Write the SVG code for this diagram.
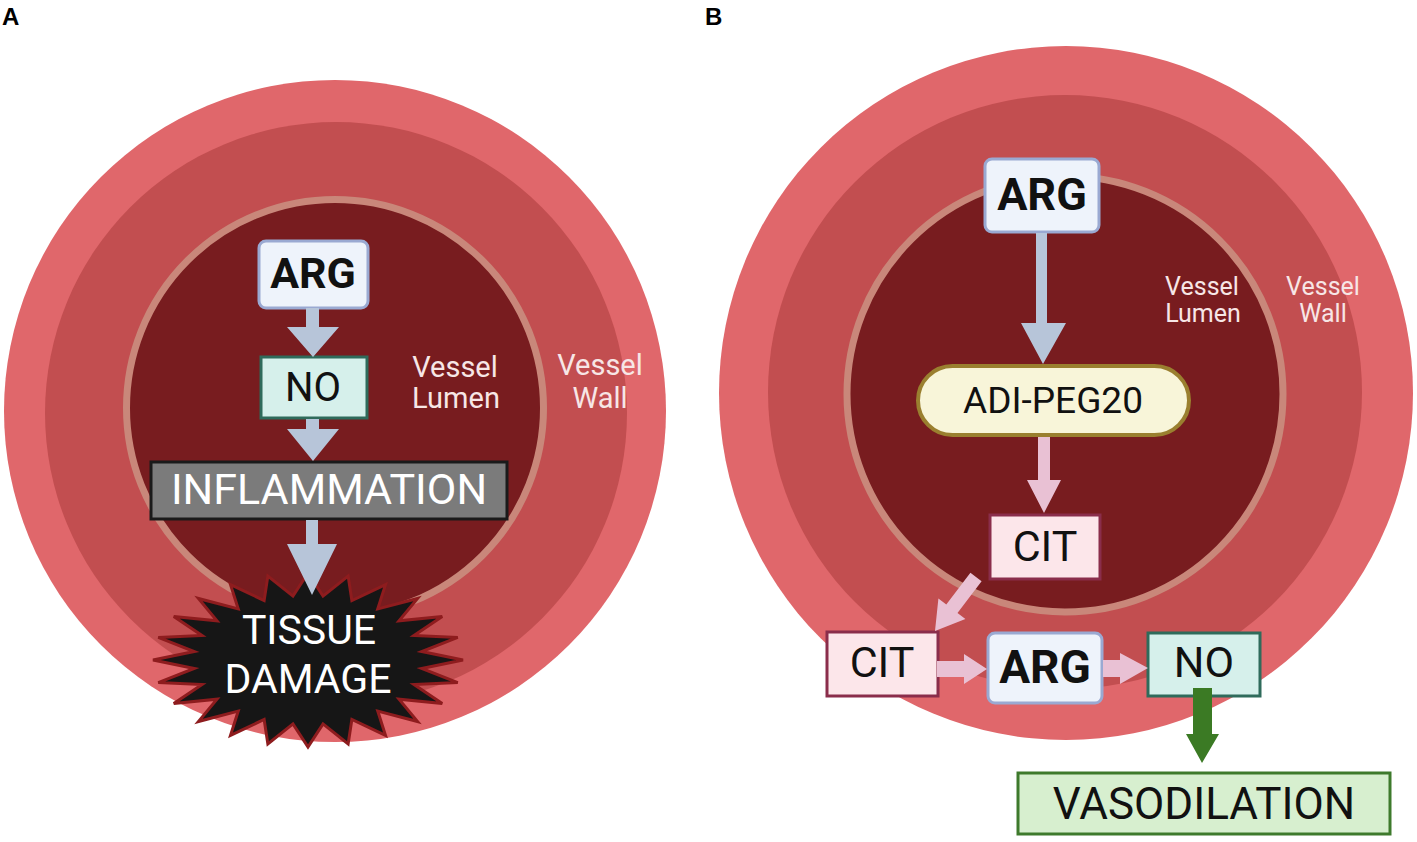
<svg xmlns="http://www.w3.org/2000/svg" width="1417" height="842" viewBox="0 0 1417 842">
<defs>
<style>
.outer{fill:#e0676b}
.mid{fill:#c24e50}
.inner{fill:#781c1f;stroke:#c9877a;stroke-width:7}
.lbl{font-family:Roboto,"Liberation Sans",sans-serif;fill:#f7e6e6;text-anchor:middle}
.t{font-family:Roboto,"Liberation Sans",sans-serif;text-anchor:middle;fill:#111}
.b{font-weight:bold}
.arg{fill:#eef3fb;stroke:#9aa9d2;stroke-width:3}
.no{fill:#d6f0eb;stroke:#2f6b5b;stroke-width:3}
.cit{fill:#fce6ea;stroke:#8a2d4b;stroke-width:3}
.blue{fill:#b7c5d9}
.pink{fill:#e9c1d4}
.green{fill:#3b7a24}
.panel{font-family:"Liberation Sans",Arial,sans-serif;font-weight:bold;font-size:24px;fill:#000}
</style>
</defs>
<rect width="1417" height="842" fill="#fff"/>
<text class="panel" x="2" y="25">A</text>
<text class="panel" x="705" y="25">B</text>

<g id="vessel-a">
<circle class="outer" cx="335" cy="411" r="331"/>
<circle class="mid" cx="336" cy="413" r="291"/>
<circle class="inner" cx="335" cy="408" r="208.5"/>
<text class="lbl" x="455" y="377" font-size="29">Vessel</text>
<text class="lbl" x="456" y="408" font-size="29">Lumen</text>
<text class="lbl" x="600" y="375" font-size="29">Vessel</text>
<text class="lbl" x="600" y="408" font-size="29">Wall</text>
</g>

<g id="vessel-b">
<circle class="outer" cx="1066" cy="393" r="347"/>
<circle class="mid" cx="1065" cy="392" r="297"/>
<circle class="inner" cx="1065" cy="394" r="218"/>
<text class="lbl" x="1202" y="295" font-size="25">Vessel</text>
<text class="lbl" x="1203" y="322" font-size="25">Lumen</text>
<text class="lbl" x="1323" y="295" font-size="25">Vessel</text>
<text class="lbl" x="1323" y="322" font-size="25">Wall</text>
</g>

<g id="a-arg">
<rect class="arg" x="259" y="241" width="109" height="67" rx="7"/>
<text class="t b" x="313" y="288" font-size="43">ARG</text>
</g>
<g id="a-no">
<rect class="no" x="261" y="357" width="106" height="61"/>
<text class="t" x="313" y="401" font-size="40">NO</text>
</g>
<g id="a-inflammation">
<rect x="151" y="462" width="356" height="57" fill="#7b7b7b" stroke="#1a1a1a" stroke-width="3"/>
<text class="t" x="329" y="504" font-size="43" style="fill:#fff">INFLAMMATION</text>
</g>
<g id="a-tissue-damage">
<polygon transform="translate(308,660) scale(1.55,0.87)" vector-effect="non-scaling-stroke" fill="#161616" stroke="#8e1c1e" stroke-width="3" stroke-linejoin="miter" points="100,0 73.4,9.7 96.6,25.9 68.4,28.3 86.6,50 58.7,45 70.7,70.7 45,58.7 50,86.6 28.3,68.4 25.9,96.6 9.7,73.4 0,100 -9.7,73.4 -25.9,96.6 -28.3,68.4 -50,86.6 -45,58.7 -70.7,70.7 -58.7,45 -86.6,50 -68.4,28.3 -96.6,25.9 -73.4,9.7 -100,0 -73.4,-9.7 -96.6,-25.9 -68.4,-28.3 -86.6,-50 -58.7,-45 -70.7,-70.7 -45,-58.7 -50,-86.6 -28.3,-68.4 -25.9,-96.6 -9.7,-73.4 0,-100 9.7,-73.4 25.9,-96.6 28.3,-68.4 50,-86.6 45,-58.7 70.7,-70.7 58.7,-45 86.6,-50 68.4,-28.3 96.6,-25.9 73.4,-9.7"/>
<text class="t" x="309" y="644" font-size="41" style="fill:#fff">TISSUE</text>
<text class="t" x="308" y="693" font-size="41" style="fill:#fff">DAMAGE</text>
</g>

<g id="b-arg-top">
<rect class="arg" x="985" y="159" width="114" height="73" rx="7"/>
<text class="t b" x="1042" y="210" font-size="45">ARG</text>
</g>
<g id="b-adipeg20">
<rect x="918" y="366" width="271" height="69" rx="34.5" fill="#f8f5d9" stroke="#9a7f2f" stroke-width="4"/>
<text class="t" x="1053" y="413" font-size="37">ADI-PEG20</text>
</g>
<g id="b-cit-inner">
<rect class="cit" x="990" y="515" width="110" height="64"/>
<text class="t" x="1045" y="561" font-size="43">CIT</text>
</g>
<g id="b-cit-outer">
<rect class="cit" x="827" y="632" width="111" height="64"/>
<text class="t" x="882" y="677" font-size="43">CIT</text>
</g>
<g id="b-arg-bottom">
<rect class="arg" x="988" y="633" width="114" height="70" rx="7"/>
<text class="t b" x="1045" y="683" font-size="46">ARG</text>
</g>
<g id="b-no">
<rect class="no" x="1148" y="633" width="112" height="63"/>
<text class="t" x="1204" y="677" font-size="43">NO</text>
</g>
<g id="b-vasodilation">
<rect x="1018" y="773" width="372" height="61" fill="#d7efcf" stroke="#3e7a2c" stroke-width="3"/>
<text class="t" x="1204" y="819" font-size="44">VASODILATION</text>
</g>

<g id="connectors">
<polygon class="blue" points="306,308 319,308 319,327 339,327 313,357 287,327 306,327"/>
<polygon class="blue" points="306,419 319,419 319,429 339,429 313,461 287,429 306,429"/>
<polygon class="blue" points="306,520 318,520 318,544 337,544 312,595 287,544 306,544"/>
<polygon class="blue" points="1036,233 1047,233 1047,323 1066,323 1043,364 1021,323 1036,323"/>
<polygon class="pink" points="1038,437 1050,437 1050,480 1061,480 1044,513 1027,480 1038,480"/>
<polygon class="pink" points="970.4,572.8 981.6,581.2 957.5,612.9 965.4,619 935,631 938.4,598.4 946.3,604.5"/>
<polygon class="pink" points="937,661 964,661 964,654 987,669 964,684 964,677 937,677"/>
<polygon class="pink" points="1103,660 1120,660 1120,653 1148,668 1120,684 1120,677 1103,677"/>
<polygon class="green" points="1193,688 1212,688 1212,734 1219,734 1202,763 1186,734 1193,734"/>
</g>
</svg>
